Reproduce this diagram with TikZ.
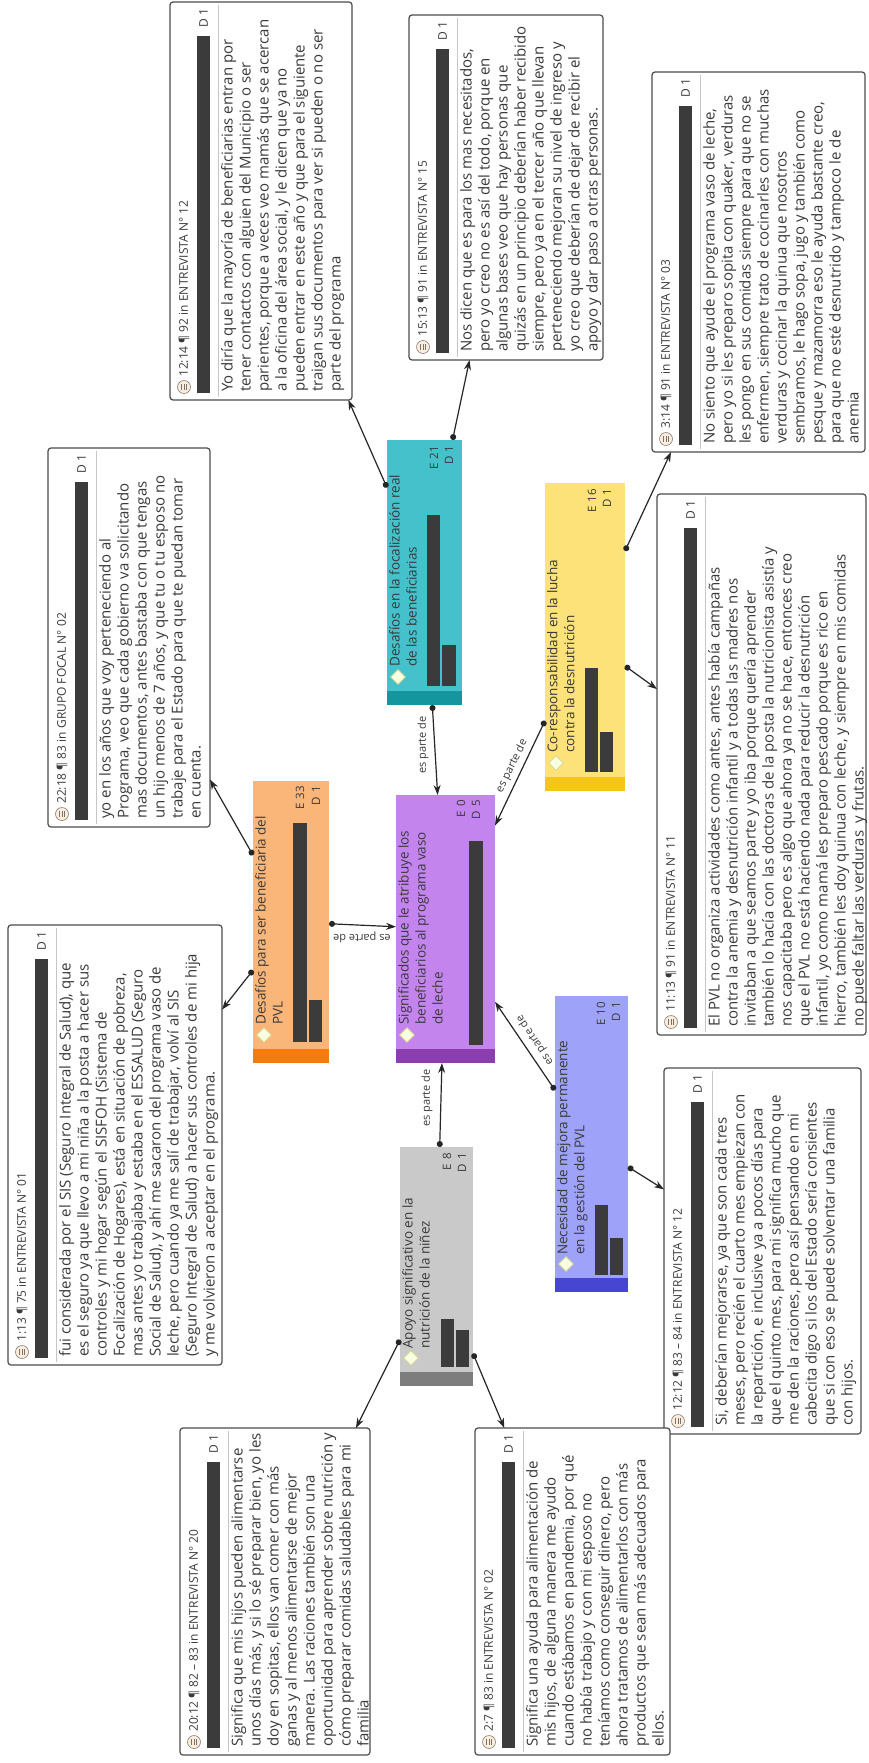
\documentclass[tikz,border=0pt]{standalone}
\usepackage{fontspec}
\setmainfont{Open Sans}
\usetikzlibrary{arrows.meta,calc,shapes.geometric}
\definecolor{bardark}{HTML}{3B3B3B}
\definecolor{orfill}{HTML}{F9B678}
\definecolor{orstr}{HTML}{F57C0C}
\definecolor{tlfill}{HTML}{45C1CC}
\definecolor{tlstr}{HTML}{14969E}
\definecolor{pufill}{HTML}{C384EE}
\definecolor{pustr}{HTML}{8C3DAE}
\definecolor{yefill}{HTML}{FDE27A}
\definecolor{yestr}{HTML}{F5C518}
\definecolor{grfill}{HTML}{C9C9C9}
\definecolor{grstr}{HTML}{7D7D7D}
\definecolor{blfill}{HTML}{9EA2F8}
\definecolor{blstr}{HTML}{4646D2}
\definecolor{linkc}{HTML}{262626}
\definecolor{txt}{HTML}{3A3A3A}

\tikzset{
 qbox/.style={draw=black!70, line width=1.2pt, rounded corners=3pt, fill=white, inner sep=0pt, outer sep=0pt},
 cbox/.style={draw=none, inner sep=0pt, outer sep=0pt},
 bodyt/.style={rotate=90, align=left, inner sep=0pt, text=txt, font=\fontsize{15}{18}\selectfont},
 hdr/.style={rotate=90, inner sep=0pt, text=txt, font=\fontsize{12}{14}\selectfont},
 ddt/.style={rotate=90, inner sep=0pt, text=txt, font=\fontsize{12}{14}\selectfont},
 clab/.style={rotate=90, align=left, inner sep=0pt, text=txt, font=\fontsize{13.5}{17}\selectfont},
 ced/.style={rotate=90, inner sep=0pt, text=txt, font=\fontsize{11.5}{13}\selectfont},
 lbl/.style={inner sep=1pt, text=txt, font=\fontsize{11}{13}\selectfont},
 link/.style={draw=linkc, line width=1.2pt, {Circle[length=6pt]}-{Stealth[length=10pt,width=7pt]}},
 dia/.style={diamond, draw=olive!35, fill=white!88!lime, inner sep=0pt, minimum size=15pt, line width=0.6pt},
 qicon/.style={circle, draw=gray, fill=orange!15, inner sep=0pt, minimum size=13pt, line width=0.6pt},
}

% quotation box: name, x0, y0, x1, y1, header, body
\newcommand\QB[7]{%
  \node[qbox, minimum width={(#4-#2)*1pt}, minimum height={(#5-#3)*1pt}, anchor=north west] (#1) at (#2,#3) {};
  \node[qicon] (#1-i) at (#2+14,#5-13) {};
  \draw[gray!90!black, line width=0.6pt] (#2+11.5,#5-16) -- (#2+11.5,#5-10) (#2+14,#5-16) -- (#2+14,#5-10) (#2+16.5,#5-16) -- (#2+16.5,#5-10);
  \node[hdr, anchor=west] (#1-h) at (#2+14,#5-23) {#6};
  \fill[bardark] (#2+27,#5-7) rectangle (#2+40,#3+34);
  \node[ddt, anchor=east] (#1-d) at (#2+33.5,#3+6) {D\,\,1};
  \draw[gray!45, line width=0.8pt] (#2+48,#3+3) -- (#2+48,#5-3);
  \node[bodyt, anchor=north west] (#1-b) at (#2+51,#5-8) {#7};
}
% code node: name, x0, y0, x1, y1, fill, stripe
\newcommand\CN[7]{%
  \node[cbox, fill=#6, minimum width={(#4-#2)*1pt}, minimum height={(#5-#3)*1pt}, anchor=north west] (#1) at (#2,#3) {};
  \fill[#7] (#2,#5-14) rectangle (#4,#5);
  \node[dia] (#1-dia) at (#2+11,#5-28) {};
}

\begin{document}
\begin{tikzpicture}[x=1pt,y=-1pt]
\useasboundingbox (0,0) rectangle (868,1763);
\fill[white] (0,0) rectangle (868,1763);

% ---------- code nodes ----------
\CN{orange}{253}{781}{329}{1063}{orfill}{orstr}
\node[clab, anchor=north west] (orange-l) at (255,1025) {Desafíos para ser beneficiaria del\\PVL};
\node[ced, anchor=east] (orange-e) at (300,786) {E\,\,33};
\node[ced, anchor=east] (orange-d) at (316,786) {D\,\,1};
\fill[bardark] (293,1042) rectangle (307,823);
\fill[bardark] (309,1042) rectangle (322,1000);

\CN{teal}{387}{440}{462}{705}{tlfill}{tlstr}
\node[clab, anchor=north west] (teal-l) at (389,667) {Desafíos en la focalización real\\de las beneficiarias};
\node[ced, anchor=east] (teal-e) at (434,446) {E\,\,21};
\node[ced, anchor=east] (teal-d) at (449,446) {D\,\,1};
\fill[bardark] (427,686) rectangle (440,515);
\fill[bardark] (442,686) rectangle (456,645);

\CN{purple}{396}{795}{495}{1063}{pufill}{pustr}
\node[clab, anchor=north west] (purple-l) at (398,1025) {Significados que le atribuye los\\beneficiarios al programa vaso\\de leche};
\node[ced, anchor=east] (purple-e) at (461,800) {E\,\,0};
\node[ced, anchor=east] (purple-d) at (476,800) {D\,\,5};
\fill[bardark] (469,1045) rectangle (483,841);

\CN{yellow}{545}{483}{625}{791}{yefill}{yestr}
\node[clab, anchor=north west] (yellow-l) at (547,753) {Co-responsabilidad en la lucha\\contra la desnutrición};
\node[ced, anchor=east] (yellow-e) at (592,489) {E\,\,16};
\node[ced, anchor=east] (yellow-d) at (607,489) {D\,\,1};
\fill[bardark] (585,772) rectangle (598,668);
\fill[bardark] (600,772) rectangle (613,732);

\CN{gray}{400}{1147}{473}{1386}{grfill}{grstr}
\node[clab, anchor=north west] (gray-l) at (402,1349) {Apoyo significativo en la\\nutrición de la niñez};
\node[ced, anchor=east] (gray-e) at (447,1153) {E\,\,8};
\node[ced, anchor=east] (gray-d) at (462,1153) {D\,\,1};
\fill[bardark] (441,1367) rectangle (454,1319);
\fill[bardark] (456,1367) rectangle (469,1330);

\CN{blue}{555}{996}{628}{1292}{blfill}{blstr}
\node[clab, anchor=north west] (blue-l) at (557,1255) {Necesidad de mejora permanente\\en la gestión del PVL};
\node[ced, anchor=east] (blue-e) at (601,1002) {E\,\,10};
\node[ced, anchor=east] (blue-d) at (616,1002) {D\,\,1};
\fill[bardark] (595,1275) rectangle (608,1205);
\fill[bardark] (610,1275) rectangle (623,1238);

% ---------- quotation boxes ----------
\QB{qA}{170}{2}{352}{400}{12:14 ¶ 92 in ENTREVISTA N° 12}{Yo diría que la mayoría de beneficiarias entran por\\tener contactos con alguien del Municipio o ser\\parientes, porque a veces veo mamás que se acercan\\a la oficina del área social, y le dicen que ya no\\pueden entrar en este año y que para el siguiente\\traigan sus documentos para ver si pueden o no ser\\parte del programa}

\QB{qB}{409}{15}{603}{360}{15:13 ¶ 91 in ENTREVISTA N° 15}{Nos dicen que es para los mas necesitados,\\pero yo creo no es así del todo, porque en\\algunas bases veo que hay personas que\\quizás en un principio deberían haber recibido\\siempre, pero ya en el tercer año que llevan\\perteneciendo mejoran su nivel de ingreso y\\yo creo que deberían de dejar de recibir el\\apoyo y dar paso a otras personas.}

\QB{qC}{652}{72}{865}{452}{3:14 ¶ 91 in ENTREVISTA N° 03}{No siento que ayude el programa vaso de leche,\\pero yo si les preparo sopita con quaker, verduras\\les pongo en sus comidas siempre para que no se\\enfermen, siempre trato de cocinarles con muchas\\verduras y cocinar la quinua que nosotros\\sembramos, le hago sopa, jugo y también como\\pesque y mazamorra eso le ayuda bastante creo,\\para que no esté desnutrido y tampoco le de\\anemia}

\QB{qD}{48}{448}{210}{827}{22:18 ¶ 83 in GRUPO FOCAL N° 02}{yo en los años que voy perteneciendo al\\Programa, veo que cada gobierno va solicitando\\mas documentos, antes bastaba con que tengas\\un hijo menos de 7 años, y que tu o tu esposo no\\trabaje para el Estado para que te puedan tomar\\en cuenta.}

\QB{qE}{8}{925}{222}{1365}{1:13 ¶ 75 in ENTREVISTA N° 01}{fui considerada por el SIS (Seguro Integral de Salud), que\\es el seguro ya que llevo a mi niña a la posta a hacer sus\\controles y mi hogar según el SISFOH (Sistema de\\Focalización de Hogares), está en situación de pobreza,\\mas antes yo trabajaba y estaba en el ESSALUD (Seguro\\Social de Salud), y ahí me sacaron del programa vaso de\\leche, pero cuando ya me salí de trabajar, volví al SIS\\(Seguro Integral de Salud) a hacer sus controles de mi hija\\y me volvieron a aceptar en el programa.}

\QB{qF}{657}{494}{866}{1035}{11:13 ¶ 91 in ENTREVISTA N° 11}{El PVL no organiza actividades como antes, antes había campañas\\contra la anemia y desnutrición infantil y a todas las madres nos\\invitaban a que seamos parte y yo iba porque quería aprender\\también lo hacía con las doctoras de la posta la nutricionista asistía y\\nos capacitaba pero es algo que ahora ya no se hace, entonces creo\\que el PVL no está haciendo nada para reducir la desnutrición\\infantil, yo como mamá les preparo pescado porque es rico en\\hierro, también les doy quinua con leche, y siempre en mis comidas\\no puede faltar las verduras~ y frutas.}

\QB{qG}{664}{1068}{861}{1434}{12:12 ¶ 83 – 84 in ENTREVISTA N° 12}{Si, deberían mejorarse, ya que son cada tres\\meses, pero recién el cuarto mes empiezan con\\la repartición, e inclusive ya a pocos días para\\que el quinto mes, para mi significa mucho que\\me den la raciones, pero así pensando en mi\\cabecita digo si los del Estado sería consientes\\que si con eso se puede solventar una familia\\con hijos.}

\QB{qH}{180}{1428}{370}{1755}{20:12 ¶ 82 – 83 in ENTREVISTA N° 20}{Significa que mis hijos pueden alimentarse\\unos días más, y si lo sé preparar bien, yo les\\doy en sopitas, ellos van comer con más\\ganas y al menos alimentarse de mejor\\manera. Las raciones también son una\\oportunidad para aprender sobre nutrición y\\cómo preparar comidas saludables para mi\\familia}

\QB{qI}{475}{1428}{670}{1755}{2:7 ¶ 83 in ENTREVISTA N° 02}{Significa una ayuda para alimentación de\\mis hijos, de alguna manera me ayudo\\cuando estábamos en pandemia, por qué\\no había trabajo y con mi esposo no\\teníamos como conseguir dinero, pero\\ahora tratamos de alimentarlos con más\\productos que sean más adecuados para\\ellos.}

% ---------- links ----------
\draw[link] (orange) -- (purple);
\draw[link] (teal) -- (purple);
\draw[link] (yellow) -- (purple);
\draw[link] (gray) -- (purple);
\draw[link] (blue) -- (purple);
\draw[link] (orange) -- (qD);
\draw[link] (orange) -- (qE);
\draw[link] (teal) -- (qA);
\draw[link] (teal) -- (qB);
\draw[link] (yellow) -- (qC);
\draw[link] (yellow) -- (qF);
\draw[link] (blue) -- (qG);
\draw[link] (gray) -- (qH);
\draw[link] (gray) -- (qI);

% ---------- link labels ----------
\node[lbl, rotate=180] (L1) at (362,937) {es parte de};
\node[lbl, rotate=90] (L2) at (423,745) {es parte de};
\node[lbl, rotate=64] (L3) at (512,766) {es parte de};
\node[lbl, rotate=90] (L4) at (427,1098) {es parte de};
\node[lbl, rotate=124] (L5) at (535,1040) {es parte de};
\end{tikzpicture}
\end{document}
